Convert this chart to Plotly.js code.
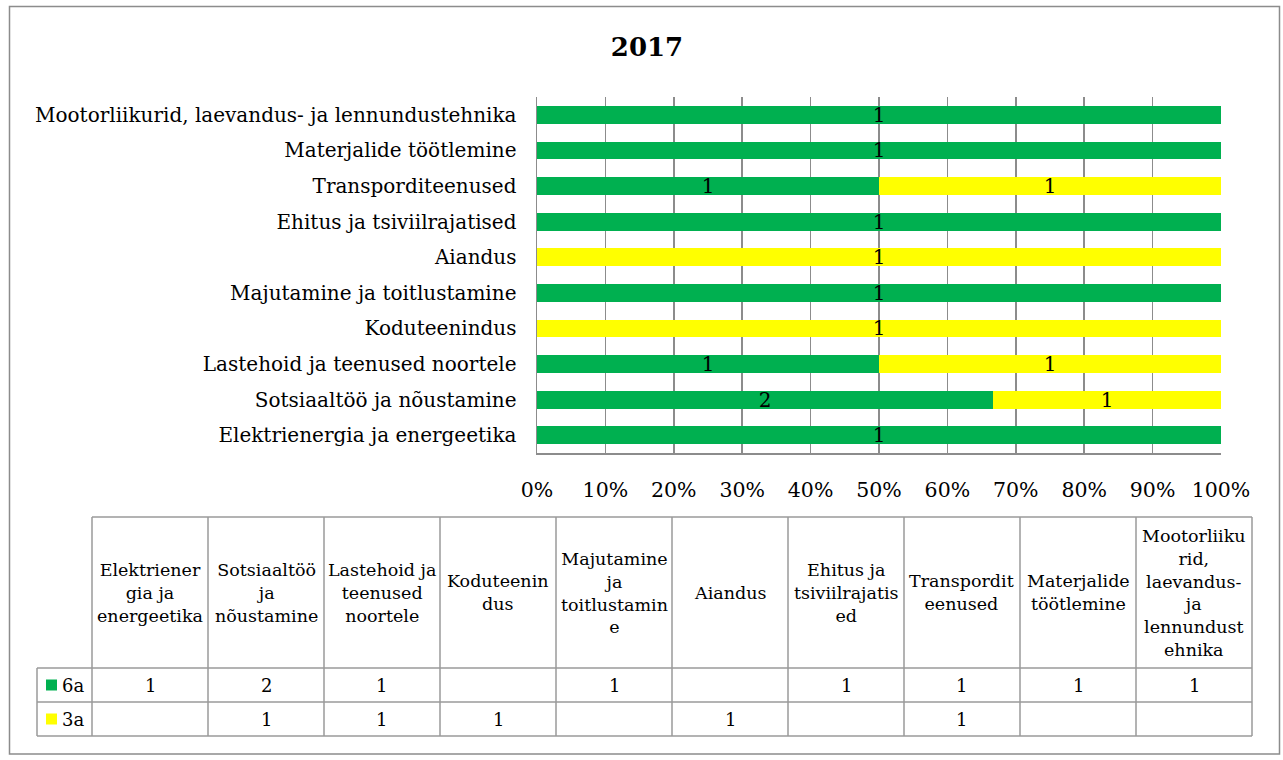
<!DOCTYPE html>
<html><head><meta charset="utf-8">
<script src="https://cdn.plot.ly/plotly-3.0.1.min.js"></script>
<style>body{margin:0;background:#fff}#c{width:1283px;height:760px}</style>
</head><body><div id="c"></div>
<script>
const categories = ["Elektrienergia ja energeetika","Sotsiaaltöö ja nõustamine","Lastehoid ja teenused noortele","Koduteenindus","Majutamine ja toitlustamine","Aiandus","Ehitus ja tsiviilrajatised","Transporditeenused","Materjalide töötlemine","Mootorliikurid, laevandus- ja lennundustehnika"];
const tableHeaders = ["Elektriener<br>gia ja<br>energeetika","Sotsiaaltöö<br>ja<br>nõustamine","Lastehoid ja<br>teenused<br>noortele","Koduteenin<br>dus","Majutamine<br>ja<br>toitlustamin<br>e","Aiandus","Ehitus ja<br>tsiviilrajatis<br>ed","Transpordit<br>eenused","Materjalide<br>töötlemine","Mootorliiku<br>rid,<br>laevandus-<br>ja<br>lennundust<br>ehnika"];
const series6a = [1,2,1,null,1,null,1,1,1,1];
const series3a = [null,1,1,1,null,1,null,1,null,null];
const seriesNames = ["6a","3a"];
const seriesColors = ["#00B050","#FFFF00"];
const tickVals = [0,10,20,30,40,50,60,70,80,90,100];
const tickText = ["0%","10%","20%","30%","40%","50%","60%","70%","80%","90%","100%"];

const W=1283,H=760;
const px = x => x/W, py = y => 1 - y/H;
const FONT = "DejaVu Serif";

const mk = (vals,i) => ({
  type:'bar', orientation:'h', y:categories, x:vals, name:seriesNames[i],
  marker:{color:seriesColors[i], line:{width:0}},
  text: vals.map(v => v==null ? '' : String(v)), textposition:'inside', insidetextanchor:'middle',
  textangle:0, constraintext:'none',
  textfont:{family:FONT,size:20,color:'#000'}, hoverinfo:'skip', showlegend:false
});
const data=[mk(series6a,0), mk(series3a,1)];

const shapes=[], annotations=[];
shapes.push({type:'rect',xref:'paper',yref:'paper',x0:px(9.5),x1:px(1279.5),y0:py(754),y1:py(6.5),line:{color:'#8c8c8c',width:1.5}});
const colX0=92, colW=116, legX0=37, hTop=517, hBot=668, rowH=34;
const nCol=tableHeaders.length, xEnd=colX0+colW*nCol;
const gridC='#9a9a9a';
shapes.push({type:'line',xref:'paper',yref:'paper',x0:px(colX0),x1:px(xEnd),y0:py(hTop),y1:py(hTop),line:{color:gridC,width:1.5}});
[hBot,hBot+rowH,hBot+2*rowH].forEach(y=>shapes.push({type:'line',xref:'paper',yref:'paper',x0:px(legX0),x1:px(xEnd),y0:py(y),y1:py(y),line:{color:gridC,width:1.5}}));
shapes.push({type:'line',xref:'paper',yref:'paper',x0:px(legX0),x1:px(legX0),y0:py(hBot),y1:py(hBot+2*rowH),line:{color:gridC,width:1.5}});
for(let c=0;c<=nCol;c++){const x=colX0+c*colW;shapes.push({type:'line',xref:'paper',yref:'paper',x0:px(x),x1:px(x),y0:py(hTop),y1:py(hBot+2*rowH),line:{color:gridC,width:1.5}});}
tableHeaders.forEach((t,c)=>annotations.push({xref:'paper',yref:'paper',x:px(colX0+c*colW+colW/2),y:py((hTop+hBot)/2),text:t,showarrow:false,xanchor:'center',yanchor:'middle',align:'center',font:{family:FONT,size:17.5,color:'#000'}}));
[series6a,series3a].forEach((vals,r)=>{
  const yc=hBot+rowH*r+rowH/2;
  shapes.push({type:'rect',xref:'paper',yref:'paper',x0:px(46),x1:px(57),y0:py(yc+5.5),y1:py(yc-5.5),fillcolor:seriesColors[r],line:{width:0}});
  annotations.push({xref:'paper',yref:'paper',x:px(60),y:py(yc),text:seriesNames[r],showarrow:false,xanchor:'left',yanchor:'middle',font:{family:FONT,size:18,color:'#000'}});
  vals.forEach((v,c)=>{ if(v!=null) annotations.push({xref:'paper',yref:'paper',x:px(colX0+c*colW+colW/2),y:py(yc),text:String(v),showarrow:false,xanchor:'center',yanchor:'middle',font:{family:FONT,size:18,color:'#000'}});});
});

const layout={
  width:W,height:H,margin:{l:0,r:0,t:0,b:0},paper_bgcolor:'#fff',plot_bgcolor:'#fff',
  barmode:'stack',barnorm:'percent',bargap:0.5,
  title:{text:'<b>2017</b>',x:px(647),xanchor:'center',y:py(47),yanchor:'middle',font:{family:FONT,size:26,color:'#000'}},
  xaxis:{domain:[px(537),px(1221)],range:[0,100],tickvals:tickVals,ticktext:tickText,showgrid:true,gridcolor:'#8c8c8c',gridwidth:1.5,
    zeroline:false,showline:true,linecolor:'#8c8c8c',linewidth:1.5,ticks:'',ticklabelstandoff:18,tickfont:{family:FONT,size:20.5,color:'#000'},fixedrange:true},
  yaxis:{domain:[py(453),py(97)],type:'category',showline:true,linecolor:'#8c8c8c',linewidth:1.5,ticks:'',ticklabelstandoff:15,
    tickfont:{family:FONT,size:20,color:'#000'},showgrid:false,fixedrange:true},
  shapes:shapes,annotations:annotations,showlegend:false
};
Plotly.newPlot('c',data,layout,{displayModeBar:false,staticPlot:true});
</script></body></html>
